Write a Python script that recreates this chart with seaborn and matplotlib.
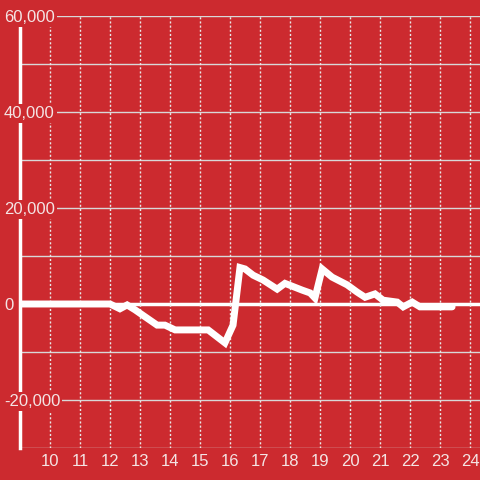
import numpy as np
import pandas as pd
import matplotlib
matplotlib.use("Agg")
import matplotlib.pyplot as plt
import seaborn as sns

# godzina -> wartość
godziny = [9.0, 11.83, 12.0, 12.33, 12.57, 12.83, 13.57, 13.83, 14.17, 15.27,
           15.83, 16.1, 16.33, 16.5, 16.77, 17.1, 17.57, 17.83, 18.4, 18.67,
           18.83, 19.07, 19.4, 19.9, 20.23, 20.5, 20.83, 21.1, 21.57, 21.77,
           22.07, 22.33, 23.4]
wartosci = [0, 0, 0, -1000, -200, -1200, -4400, -4400, -5400, -5400,
            -8100, -4400, 7600, 7300, 6000, 5000, 3100, 4300, 2900, 2300,
            1250, 7300, 5600, 4000, 2500, 1400, 2100, 800, 400, -600,
            400, -600, -600]

x_ticki = list(range(10, 25))
y_ticki = [-20000, 0, 20000, 40000, 60000]
y_etykiety = ['-20,000', '0', '20,000', '40,000', '60,000']

tlo = '#cc2a2f'
jasny = '#f4e4e4'

sns.set_style('white', rc={'axes.facecolor': tlo, 'figure.facecolor': tlo})
plt.rcParams['font.family'] = ['Liberation Sans', 'DejaVu Sans']

dane = pd.DataFrame({'Godzina': godziny, 'Wartosc': wartosci})

fig = plt.figure(figsize=(4.8, 4.8), dpi=100)
ax = fig.add_axes([20 / 480, 32 / 480, 460 / 480, 432 / 480])
ax.set_axisbelow(False)

# siatka
for v in range(-30000, 60001, 10000):
    ax.axhline(v, color='#d8d8d8', lw=1, zorder=1)
ax.set_xticks(x_ticki)
ax.grid(axis='x', color='#e8e8e8', lw=1, ls=(0, (1.5, 1.5)))
ax.axhline(0, color='white', lw=2.5, zorder=1.6)

sns.lineplot(data=dane, x='Godzina', y='Wartosc', color='white', lw=5,
             ax=ax, zorder=3, solid_joinstyle='miter')

ax.set_xlim(9, 24.33)
ax.set_ylim(-30000, 60000)
ax.set_yticks(y_ticki)
ax.set_yticklabels(y_etykiety)
ax.set_xlabel('')
ax.set_ylabel('')

for s in ['top', 'right', 'bottom']:
    ax.spines[s].set_visible(False)
ax.spines['left'].set_color('white')
ax.spines['left'].set_linewidth(2.5)
ax.spines['left'].set_zorder(1)

ax.tick_params(axis='y', length=0, pad=11.5, labelsize=12, labelcolor=jasny)
ax.tick_params(axis='x', length=0, pad=4, labelsize=12, labelcolor=jasny)
for lbl in ax.get_yticklabels():
    lbl.set_horizontalalignment('left')
    lbl.set_bbox(dict(facecolor=tlo, edgecolor='none', pad=1.5))

plt.savefig('out.png', dpi=100, facecolor=tlo)
